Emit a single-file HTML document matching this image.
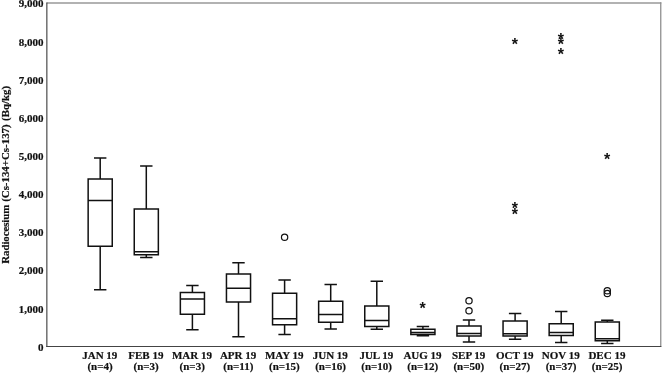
<!DOCTYPE html>
<html><head><meta charset="utf-8"><title>Radiocesium boxplot</title>
<style>
html,body{margin:0;padding:0;background:#fff;}
body{width:662px;height:373px;overflow:hidden;}
svg{display:block;}
text{font-family:"Liberation Serif","DejaVu Serif",serif;font-weight:bold;fill:#111;}
.t{font-size:11px;stroke:#111;stroke-width:0.2px;}
.bx{fill:none;stroke:#111;stroke-width:1.5;}
</style></head><body>
<svg width="662" height="373" viewBox="0 0 662 373">
<rect x="0" y="0" width="662" height="373" fill="#fff"/>

<path d="M46.7 3.0H661.3" fill="none" stroke="#989898" stroke-width="1.6"/>
<path d="M660.75 2.2V346.5" fill="none" stroke="#909090" stroke-width="1.3"/>
<path d="M46.85 2.4V346.5" fill="none" stroke="#444" stroke-width="1.15"/>
<path d="M46.1 346.5H661.4" fill="none" stroke="#444" stroke-width="1"/>
<text class="t" transform="translate(43.5 350.70) scale(1.0 1)" text-anchor="end">0</text>
<text class="t" transform="translate(43.5 312.59) scale(1.0 1)" text-anchor="end">1,000</text>
<text class="t" transform="translate(43.5 274.48) scale(1.0 1)" text-anchor="end">2,000</text>
<text class="t" transform="translate(43.5 236.37) scale(1.0 1)" text-anchor="end">3,000</text>
<text class="t" transform="translate(43.5 198.26) scale(1.0 1)" text-anchor="end">4,000</text>
<text class="t" transform="translate(43.5 160.15) scale(1.0 1)" text-anchor="end">5,000</text>
<text class="t" transform="translate(43.5 122.04) scale(1.0 1)" text-anchor="end">6,000</text>
<text class="t" transform="translate(43.5 83.93) scale(1.0 1)" text-anchor="end">7,000</text>
<text class="t" transform="translate(43.5 45.82) scale(1.0 1)" text-anchor="end">8,000</text>
<text class="t" transform="translate(43.5 7.21) scale(1.0 1)" text-anchor="end">9,000</text>
<text class="t" style="font-size:10.88px" transform="translate(8.6 174.8) rotate(-90)" text-anchor="middle"><tspan letter-spacing="-0.08">Radiocesium</tspan><tspan word-spacing="0.2"> (Cs-134+Cs-137) </tspan><tspan dx="0.5">(Bq/kg)</tspan></text>
<text class="t" x="99.80" y="358.8" text-anchor="middle">JAN 19</text>
<text class="t" x="100.00" y="369.7" text-anchor="middle">(n=4)</text>
<text class="t" x="145.90" y="358.8" text-anchor="middle">FEB 19</text>
<text class="t" x="146.10" y="369.7" text-anchor="middle">(n=3)</text>
<text class="t" x="192.00" y="358.8" text-anchor="middle">MAR 19</text>
<text class="t" x="192.20" y="369.7" text-anchor="middle">(n=3)</text>
<text class="t" x="238.10" y="358.8" text-anchor="middle">APR 19</text>
<text class="t" x="238.30" y="369.7" text-anchor="middle">(n=11)</text>
<text class="t" x="284.20" y="358.8" text-anchor="middle">MAY 19</text>
<text class="t" x="284.40" y="369.7" text-anchor="middle">(n=15)</text>
<text class="t" x="330.30" y="358.8" text-anchor="middle">JUN 19</text>
<text class="t" x="330.50" y="369.7" text-anchor="middle">(n=16)</text>
<text class="t" x="376.40" y="358.8" text-anchor="middle">JUL 19</text>
<text class="t" x="376.60" y="369.7" text-anchor="middle">(n=10)</text>
<text class="t" x="422.50" y="358.8" text-anchor="middle">AUG 19</text>
<text class="t" x="422.70" y="369.7" text-anchor="middle">(n=12)</text>
<text class="t" x="468.60" y="358.8" text-anchor="middle">SEP 19</text>
<text class="t" x="468.80" y="369.7" text-anchor="middle">(n=50)</text>
<text class="t" x="514.70" y="358.8" text-anchor="middle">OCT 19</text>
<text class="t" x="514.90" y="369.7" text-anchor="middle">(n=27)</text>
<text class="t" x="560.80" y="358.8" text-anchor="middle">NOV 19</text>
<text class="t" x="561.00" y="369.7" text-anchor="middle">(n=37)</text>
<text class="t" x="606.90" y="358.8" text-anchor="middle">DEC 19</text>
<text class="t" x="607.10" y="369.7" text-anchor="middle">(n=25)</text>
<path class="bx" d="M94.00 158.10H106.40 M100.20 158.10V178.90 M100.20 246.20V289.70 M94.00 289.70H106.40 M88.15 178.90H112.25V246.20H88.15Z M88.15 200.60H112.25"/>
<path class="bx" d="M140.10 165.90H152.50 M146.30 165.90V209.00 M146.30 254.80V257.50 M140.10 257.50H152.50 M134.25 209.00H158.35V254.80H134.25Z M134.25 251.80H158.35"/>
<path class="bx" d="M186.20 285.40H198.60 M192.40 285.40V292.50 M192.40 314.20V329.70 M186.20 329.70H198.60 M180.35 292.50H204.45V314.20H180.35Z M180.35 299.10H204.45"/>
<path class="bx" d="M232.30 262.80H244.70 M238.50 262.80V273.90 M238.50 302.10V336.70 M232.30 336.70H244.70 M226.45 273.90H250.55V302.10H226.45Z M226.45 288.30H250.55"/>
<path class="bx" d="M278.40 279.90H290.80 M284.60 279.90V293.30 M284.60 324.70V334.60 M278.40 334.60H290.80 M272.55 293.30H296.65V324.70H272.55Z M272.55 318.70H296.65"/>
<path class="bx" d="M324.50 284.50H336.90 M330.70 284.50V301.20 M330.70 322.30V328.90 M324.50 328.90H336.90 M318.65 301.20H342.75V322.30H318.65Z M318.65 314.60H342.75"/>
<path class="bx" d="M370.60 281.20H383.00 M376.80 281.20V306.00 M376.80 326.40V329.30 M370.60 329.30H383.00 M364.75 306.00H388.85V326.40H364.75Z M364.75 320.60H388.85"/>
<path class="bx" d="M416.70 326.50H429.10 M422.90 326.50V329.30 M422.90 334.40V335.80 M416.70 335.80H429.10 M410.85 329.30H434.95V334.40H410.85Z M410.85 332.50H434.95"/>
<path class="bx" d="M462.80 320.10H475.20 M469.00 320.10V325.90 M469.00 335.90V342.00 M462.80 342.00H475.20 M456.95 325.90H481.05V335.90H456.95Z M456.95 333.60H481.05"/>
<path class="bx" d="M508.90 313.60H521.30 M515.10 313.60V320.90 M515.10 336.00V339.20 M508.90 339.20H521.30 M503.05 320.90H527.15V336.00H503.05Z M503.05 333.70H527.15"/>
<path class="bx" d="M555.00 311.60H567.40 M561.20 311.60V323.70 M561.20 335.40V342.40 M555.00 342.40H567.40 M549.15 323.70H573.25V335.40H549.15Z M549.15 332.50H573.25"/>
<path class="bx" d="M601.10 320.30H613.50 M607.30 320.30V321.90 M607.30 340.80V343.40 M601.10 343.40H613.50 M595.25 321.90H619.35V340.80H595.25Z M595.25 338.80H619.35"/>
<circle class="bx" style="stroke-width:1.2" cx="284.60" cy="237.30" r="3.15"/>
<circle class="bx" style="stroke-width:1.2" cx="469.00" cy="300.80" r="3.15"/>
<circle class="bx" style="stroke-width:1.2" cx="469.00" cy="310.80" r="3.15"/>
<circle class="bx" style="stroke-width:1.2" cx="607.30" cy="290.70" r="3.15"/>
<circle class="bx" style="stroke-width:1.2" cx="607.30" cy="293.50" r="3.15"/>
<text x="422.60" y="314.00" text-anchor="middle" style="font-family:'Liberation Sans',sans-serif;font-size:16px;font-weight:bold">*</text>
<text x="514.80" y="49.50" text-anchor="middle" style="font-family:'Liberation Sans',sans-serif;font-size:16px;font-weight:bold">*</text>
<text x="514.80" y="214.20" text-anchor="middle" style="font-family:'Liberation Sans',sans-serif;font-size:16px;font-weight:bold">*</text>
<text x="514.80" y="220.20" text-anchor="middle" style="font-family:'Liberation Sans',sans-serif;font-size:16px;font-weight:bold">*</text>
<text x="560.90" y="44.90" text-anchor="middle" style="font-family:'Liberation Sans',sans-serif;font-size:16px;font-weight:bold">*</text>
<text x="560.90" y="50.10" text-anchor="middle" style="font-family:'Liberation Sans',sans-serif;font-size:16px;font-weight:bold">*</text>
<text x="560.90" y="60.40" text-anchor="middle" style="font-family:'Liberation Sans',sans-serif;font-size:16px;font-weight:bold">*</text>
<text x="607.00" y="165.30" text-anchor="middle" style="font-family:'Liberation Sans',sans-serif;font-size:16px;font-weight:bold">*</text>
</svg></body></html>
